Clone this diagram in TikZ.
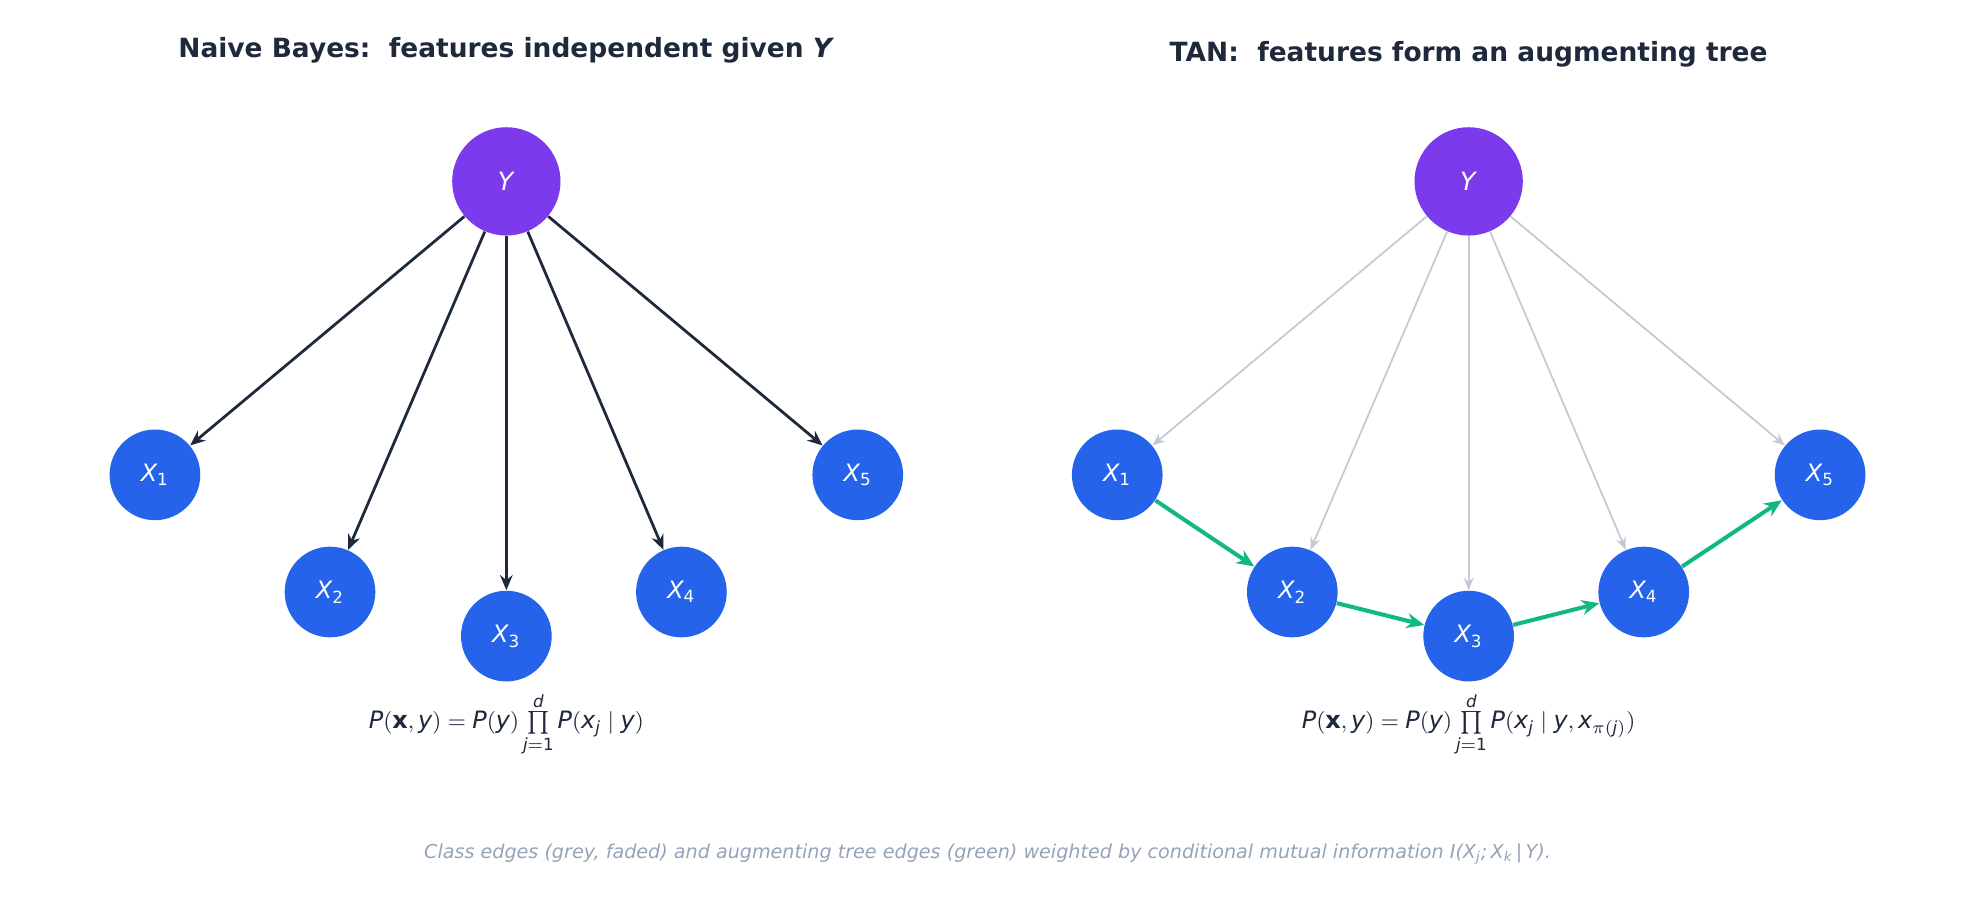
\documentclass[tikz,border=0pt]{standalone}
\usepackage{amsmath}
\usepackage{fontspec}
\setmainfont{DejaVu Sans}
\usetikzlibrary{arrows.meta}
\definecolor{ypurp}{HTML}{7C3AED}
\definecolor{xblue}{HTML}{2563EB}
\definecolor{dark}{HTML}{1E293B}
\definecolor{edgegrey}{HTML}{C4CAD4}
\definecolor{tgreen}{HTML}{10B981}
\definecolor{capgrey}{HTML}{94A3B8}
\newcommand{\vi}[1]{\textit{#1}}
\newcommand{\mysub}[1]{_{\text{#1}}}
\begin{document}
\begin{tikzpicture}[x=0.5pt,y=-0.5pt,
  ynode/.style={circle,fill=ypurp,minimum size=43pt,inner sep=0pt,text=white,font=\fontsize{10}{12}\selectfont},
  xnode/.style={circle,fill=xblue,minimum size=36pt,inner sep=0pt,text=white,font=\fontsize{9.5}{11}\selectfont},
  nb/.style={draw=dark,line width=1.1pt,-{Stealth[length=6pt,width=5pt]}},
  cls/.style={draw=edgegrey,line width=0.7pt,-{Stealth[length=5pt,width=4pt]}},
  tree/.style={draw=tgreen,line width=1.6pt,-{Stealth[length=7pt,width=6pt]}},
  title/.style={text=dark,font=\bfseries\fontsize{10.5}{12}\selectfont},
  formula/.style={text=dark,font=\fontsize{9.5}{11}\selectfont}]
\useasboundingbox (0,0) rectangle (1568,718);
\node[title] (t1) at (402,40) {Naive Bayes:\ \ features independent given \vi{Y}};
\node[title] (t2) at (1166,43) {TAN:\ \ features form an augmenting tree};
% left
\node[ynode] (y) at (402,144) {\vi{Y}};
\node[xnode] (a1) at (123,377) {$\vi{X}\mysub{1}$};
\node[xnode] (a2) at (262,470) {$\vi{X}\mysub{2}$};
\node[xnode] (a3) at (402,505) {$\vi{X}\mysub{3}$};
\node[xnode] (a4) at (541,470) {$\vi{X}\mysub{4}$};
\node[xnode] (a5) at (681,377) {$\vi{X}\mysub{5}$};
\foreach \n in {a1,a2,a3,a4,a5} \draw[nb] (y) -- (\n);
% right
\node[ynode] (yr) at (1166,144) {\vi{Y}};
\node[xnode] (b1) at (887,377) {$\vi{X}\mysub{1}$};
\node[xnode] (b2) at (1026,470) {$\vi{X}\mysub{2}$};
\node[xnode] (b3) at (1166,505) {$\vi{X}\mysub{3}$};
\node[xnode] (b4) at (1305,470) {$\vi{X}\mysub{4}$};
\node[xnode] (b5) at (1445,377) {$\vi{X}\mysub{5}$};
\foreach \n in {b1,b2,b3,b4,b5} \draw[cls] (yr) -- (\n);
\draw[tree] (b1) -- (b2);
\draw[tree] (b2) -- (b3);
\draw[tree] (b3) -- (b4);
\draw[tree] (b4) -- (b5);
\node[formula] (f1) at (402,575) {$\vi{P}(\textbf{x},\vi{y})=\vi{P}(\vi{y})\prod\limits_{\vi{j}=\text{1}}^{\vi{d}}\vi{P}(\vi{x}_{\vi{j}}\mid \vi{y})$};
\node[formula] (f2) at (1166,575) {$\vi{P}(\textbf{x},\vi{y})=\vi{P}(\vi{y})\prod\limits_{\vi{j}=\text{1}}^{\vi{d}}\vi{P}(\vi{x}_{\vi{j}}\mid \vi{y},\vi{x}_{\pi(\vi{j})})$};
\node[text=capgrey,font=\itshape\fontsize{7.6}{9}\selectfont] (cap) at (784,678) {Class edges (grey, faded) and augmenting tree edges (green) weighted by conditional mutual information \textit{I}(\textit{X}$_{\textit{j}}$;\,\textit{X}$_{\textit{k}}$\,|\,\textit{Y}).};
\end{tikzpicture}
\end{document}
